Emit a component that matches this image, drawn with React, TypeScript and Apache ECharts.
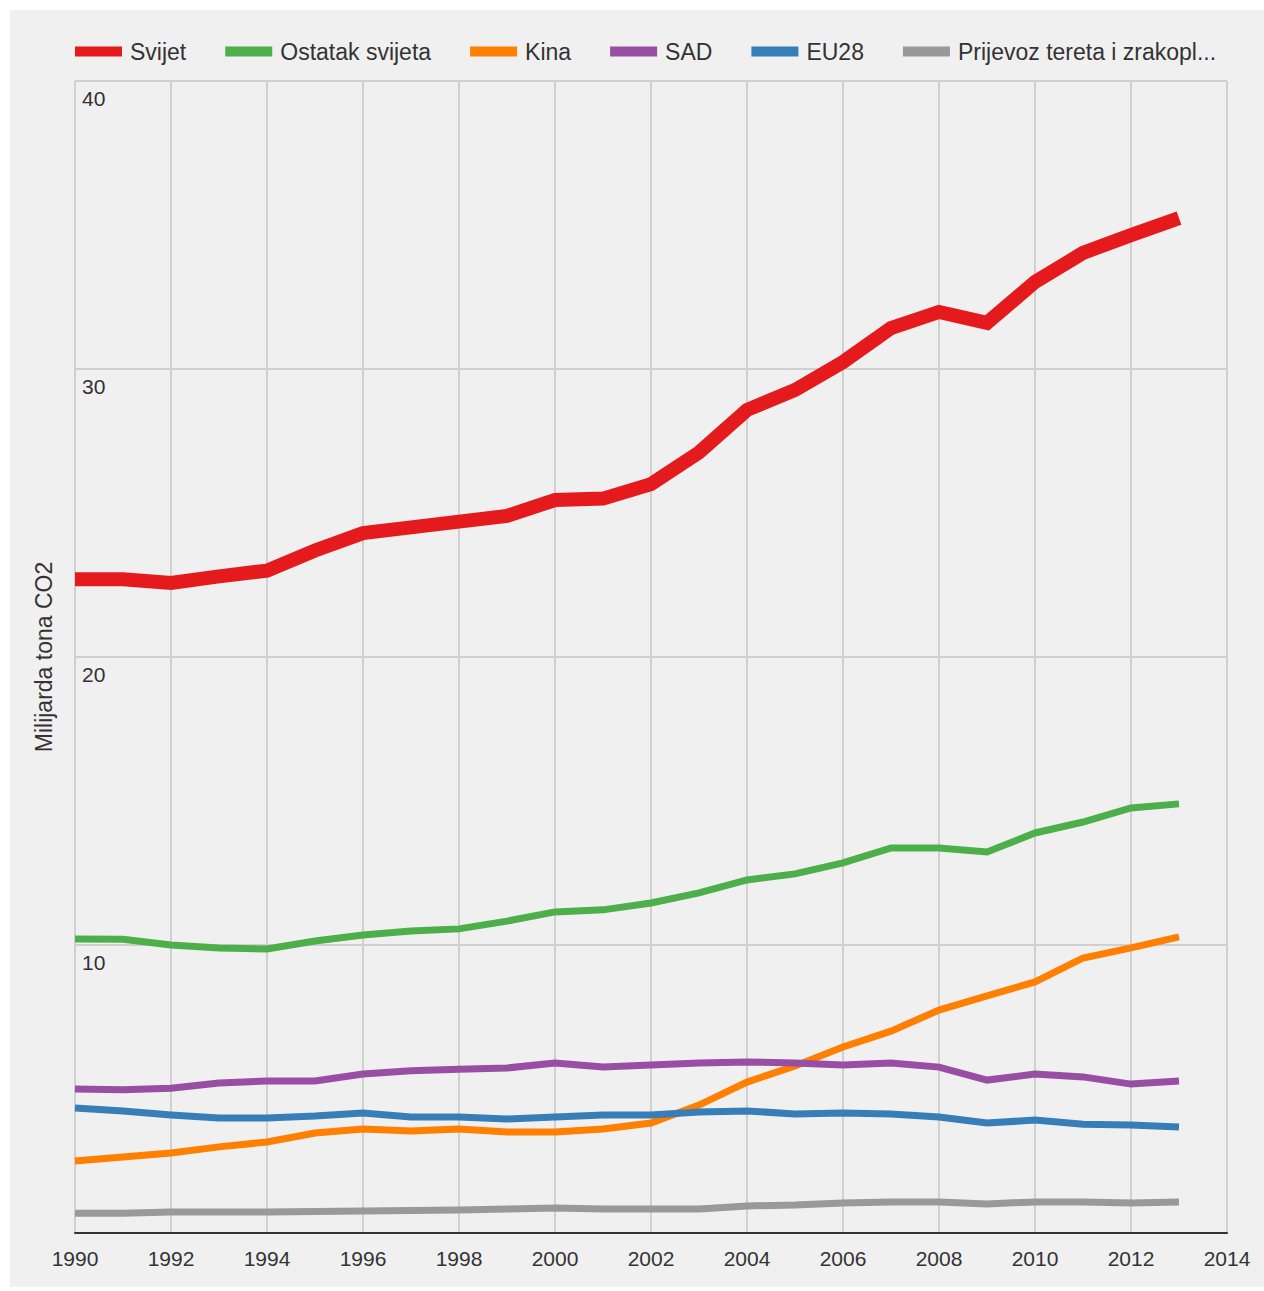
import React, { useEffect, useRef } from "react";
import * as echarts from "echarts";

const years = [1990, 1991, 1992, 1993, 1994, 1995, 1996, 1997, 1998, 1999, 2000, 2001, 2002, 2003, 2004, 2005, 2006, 2007, 2008, 2009, 2010, 2011, 2012, 2013];

const svijet = [22.7, 22.7, 22.57, 22.8, 23.0, 23.7, 24.3, 24.5, 24.7, 24.9, 25.45, 25.5, 26.0, 27.1, 28.58, 29.27, 30.24, 31.42, 31.98, 31.6, 33.02, 34.03, 34.65, 35.24];
const ostatak = [10.21, 10.2, 10.0, 9.9, 9.86, 10.14, 10.35, 10.49, 10.56, 10.83, 11.15, 11.22, 11.46, 11.81, 12.26, 12.47, 12.85, 13.37, 13.37, 13.23, 13.89, 14.27, 14.76, 14.9];
const kina = [2.5, 2.64, 2.78, 2.99, 3.16, 3.47, 3.61, 3.54, 3.61, 3.51, 3.51, 3.61, 3.82, 4.44, 5.24, 5.8, 6.46, 7.01, 7.74, 8.23, 8.72, 9.55, 9.9, 10.28];
const sad = [5.0, 4.97, 5.03, 5.21, 5.28, 5.28, 5.52, 5.63, 5.69, 5.73, 5.9, 5.76, 5.83, 5.9, 5.94, 5.9, 5.83, 5.9, 5.76, 5.31, 5.52, 5.42, 5.17, 5.28];
const eu28 = [4.34, 4.24, 4.1, 3.99, 3.99, 4.06, 4.17, 4.03, 4.03, 3.96, 4.03, 4.1, 4.1, 4.2, 4.24, 4.13, 4.17, 4.13, 4.03, 3.82, 3.92, 3.78, 3.75, 3.68];
const prijevoz = [0.69, 0.69, 0.73, 0.73, 0.73, 0.75, 0.76, 0.78, 0.8, 0.83, 0.87, 0.83, 0.83, 0.83, 0.94, 0.97, 1.04, 1.08, 1.08, 1.01, 1.08, 1.08, 1.04, 1.08];

const seriesNames = ["Svijet", "Ostatak svijeta", "Kina", "SAD", "EU28", "Prijevoz tereta i zrakopl..."];
const seriesData = [svijet, ostatak, kina, sad, eu28, prijevoz];
const seriesColors = ["#e41a1c", "#4daf4a", "#ff7f00", "#984ea3", "#377eb8", "#999999"];
const seriesWidths = [14, 7, 7, 7, 7, 7];

const xMin = 1990;
const xMax = 2014;
const xStep = 2;
const yMin = 0;
const yMax = 40;
const yStep = 10;
const yTitle = "Milijarda tona CO2";

const FONT = "'Liberation Sans', Arial, sans-serif";

export default function App() {
  const ref = useRef<HTMLDivElement>(null);
  useEffect(() => {
    if (!ref.current) return;
    const chart = echarts.init(ref.current, undefined, { renderer: "svg" });
    chart.setOption({
      animation: false,
      backgroundColor: "transparent",
      textStyle: { fontFamily: FONT },
      legend: {
        data: seriesNames,
        left: 75,
        top: 40,
        padding: 0,
        icon: "rect",
        itemWidth: 47,
        itemHeight: 10,
        itemGap: 39,
        textStyle: { fontSize: 23, color: "#333", fontFamily: FONT, padding: [0, 0, 0, 3] },
      },
      grid: { left: 75, top: 81, width: 1152, height: 1152, containLabel: false },
      xAxis: {
        type: "value",
        min: xMin,
        max: xMax,
        interval: xStep,
        axisLine: { show: true, lineStyle: { color: "#333", width: 2 } },
        axisTick: { show: false },
        axisLabel: {
          fontSize: 21,
          color: "#333",
          margin: 15,
          fontFamily: FONT,
          formatter: (v: number) => String(v),
        },
        splitLine: { show: true, lineStyle: { color: "#d0d0d0", width: 2 } },
      },
      yAxis: {
        type: "value",
        min: yMin,
        max: yMax,
        interval: yStep,
        name: yTitle,
        nameLocation: "middle",
        nameGap: 20,
        nameTextStyle: { fontSize: 23, color: "#333", fontFamily: FONT },
        axisLine: { show: false },
        axisTick: { show: false },
        axisLabel: {
          inside: true,
          fontSize: 21,
          color: "#333",
          fontFamily: FONT,
          margin: 7,
          verticalAlign: "top",
          padding: [7, 0, 0, 0],
          formatter: (v: number) => (v === 0 ? "" : String(v)),
        },
        splitLine: { show: true, lineStyle: { color: "#d0d0d0", width: 2 } },
      },
      series: seriesNames.map((name, i) => ({
        name,
        type: "line",
        symbol: "none",
        data: years.map((y, j) => [y, seriesData[i][j]]),
        color: seriesColors[i],
        lineStyle: { color: seriesColors[i], width: seriesWidths[i], join: "miter", cap: "butt" },
        itemStyle: { color: seriesColors[i] },
      })),
    });
    return () => chart.dispose();
  }, []);

  return (
    <div style={{ position: "absolute", left: 0, top: 0, width: 1264, height: 1291, background: "#ffffff" }}>
      <div style={{ position: "absolute", left: 10, top: 10, width: 1254, height: 1277, background: "#f0f0f0" }} />
      <div ref={ref} style={{ position: "absolute", left: 0, top: 0, width: 1264, height: 1291 }} />
    </div>
  );
}
